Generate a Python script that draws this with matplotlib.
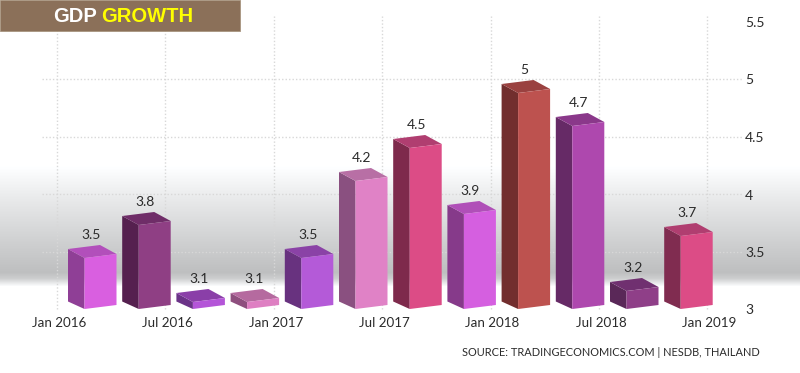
import numpy as np
import matplotlib
matplotlib.use("Agg")
import matplotlib.pyplot as plt
from matplotlib.patches import Polygon, Rectangle

# ---- data ----
values = [3.5, 3.8, 3.1, 3.1, 3.5, 4.2, 4.5, 3.9, 5, 4.7, 3.2, 3.7]
labels = ["3.5", "3.8", "3.1", "3.1", "3.5", "4.2", "4.5", "3.9", "5", "4.7", "3.2", "3.7"]
tick_pos = [0, 2, 4, 6, 8, 10, 12]
tick_labels = ["Jan 2016", "Jul 2016", "Jan 2017", "Jul 2017", "Jan 2018", "Jul 2018", "Jan 2019"]
y_ticks = [3, 3.5, 4, 4.5, 5, 5.5]
y_tick_labels = ["3", "3.5", "4", "4.5", "5", "5.5"]
y_grid = [3.5, 4, 4.5, 5]

front = ["#d95fe0", "#8f3f84", "#b455d8", "#de7fc2", "#b45ad8", "#e082c6",
         "#dc4c86", "#d55fe0", "#bd524f", "#ae48ae", "#8f3f88", "#dc4c86"]
side = ["#8f3f96", "#55204f", "#6b3388", "#8e4f7e", "#68327f", "#8a5080",
        "#7e2a4c", "#863a8a", "#722e2e", "#662a66", "#5a2858", "#802c50"]
top = ["#b24fbb", "#6f2d68", "#8a3fa8", "#b56a9f", "#8a42a6", "#b86fa5",
       "#b03e70", "#b04fb8", "#9a4140", "#8a388a", "#703070", "#b03e70"]

W, H = 800, 373
FONT = ["Lato", "DejaVu Sans"]
TEXT = "#2b2b2b"
fig = plt.figure(figsize=(W / 100, H / 100), dpi=100, facecolor="white")

# background gradient
bg = fig.add_axes([0, 0, 1, 1], zorder=0)
rows = np.arange(H)
shade = np.interp(rows, [0, 165, 200, 240, 272, 278, 286, 373],
                  [255, 255, 232, 208, 190, 205, 255, 255])
img = np.dstack([shade, shade + 1, shade + 2]).clip(0, 255).astype(np.uint8)
img = np.repeat(img.reshape(H, 1, 3), 2, axis=1)
bg.imshow(img, aspect="auto", extent=(0, W, H, 0), interpolation="nearest")
bg.axis("off")

# value axes (gridlines and tick labels): x in quarters, y in percent
PX_X = 54.2
X0 = 57.0
Y3 = 309.0
PX_Y = 115.0
ax = fig.add_axes([0, 0, 1, 1], zorder=1, facecolor="none")
ax.set_xlim(-X0 / PX_X, (W - X0) / PX_X)
ax.set_ylim(3 - (H - Y3) / PX_Y, 3 + Y3 / PX_Y)
ax.axis("off")
x_left, x_right = (42 - X0) / PX_X, (742 - X0) / PX_X
grid = dict(color="#d8d8d8", lw=1, ls=(0, (1, 1.5)), zorder=1)
for v in y_grid:
    ax.plot([x_left, x_right], [v, v], **grid)
for v, t in zip(y_ticks, y_tick_labels):
    ax.text(x_right + 3 / PX_X, v - 1.5 / PX_Y, t, fontsize=10, family=FONT, color=TEXT,
            ha="left", va="center")
for p, t in zip(tick_pos, tick_labels):
    ax.plot([p, p], [3, 5.55], **grid)
    ax.text(p + 2 / PX_X, 3 - 14 / PX_Y, t, fontsize=9.6, family=FONT, color=TEXT,
            ha="center", va="center")

# bar axes: the pseudo-3D columns have their own slightly compressed scale
BAR_PX_Y = 110.0
BAR_REF = 289.0
bx = fig.add_axes([0, 0, 1, 1], zorder=2, facecolor="none")
bx.set_xlim(-X0 / PX_X, (W - X0) / PX_X)
bx.set_ylim(3.1 + (BAR_REF - H) / BAR_PX_Y, 3.1 + BAR_REF / BAR_PX_Y)
bx.axis("off")

ux, uy = 1 / PX_X, 1 / BAR_PX_Y          # one pixel in data units
base = 3.1 + (BAR_REF - 309) / BAR_PX_Y  # bottom of the front-left corner
for i, v in enumerate(values):
    L = i + 11 * ux
    FLx, FRx, BRx = L + 16.5 * ux, L + 48.5 * ux, L + 32 * ux
    tBL, tFL, tFR = v - 4 * uy, v - 13 * uy, v - 9 * uy
    bBL, bFL, bFR = base + 7.5 * uy, base, base + 4 * uy
    bx.add_patch(Polygon([(L, tBL), (FLx, tFL), (FLx, bFL), (L, bBL)], fc=side[i], ec="none", zorder=3))
    bx.add_patch(Polygon([(L, tBL), (FLx, tFL), (FRx, tFR), (BRx, v)], fc=top[i], ec="none", zorder=3))
    bx.add_patch(Polygon([(FLx, tFL), (FRx, tFR), (FRx, bFR), (FLx, bFL)], fc=front[i], ec="none", zorder=3))
    bx.text(L + 23 * ux, v + 10 * uy, labels[i], fontsize=10, family=FONT, color=TEXT,
            ha="center", va="center", zorder=4)

# banner
fig.add_artist(Rectangle((0, 1 - 31 / H), 240 / W, 31 / H, transform=fig.transFigure,
                         fc="#8b7059", ec="#a8957f", lw=0.6, zorder=5))
narrow = ["Liberation Sans", "DejaVu Sans"]
fig.text(53 / W, 1 - 16 / H, "GDP", fontsize=14.5, fontweight="bold", family=narrow, color="white",
         ha="left", va="center", zorder=6)
fig.text(101 / W, 1 - 16 / H, "GROWTH", fontsize=14.5, fontweight="bold", family=narrow, color="#ffff00",
         ha="left", va="center", zorder=6)

fig.text(760 / W, 1 - 353 / H, "SOURCE: TRADINGECONOMICS.COM | NESDB, THAILAND", fontsize=7.9,
         family=FONT, color=TEXT, ha="right", va="center", zorder=6)

fig.savefig("out.png", dpi=100)
